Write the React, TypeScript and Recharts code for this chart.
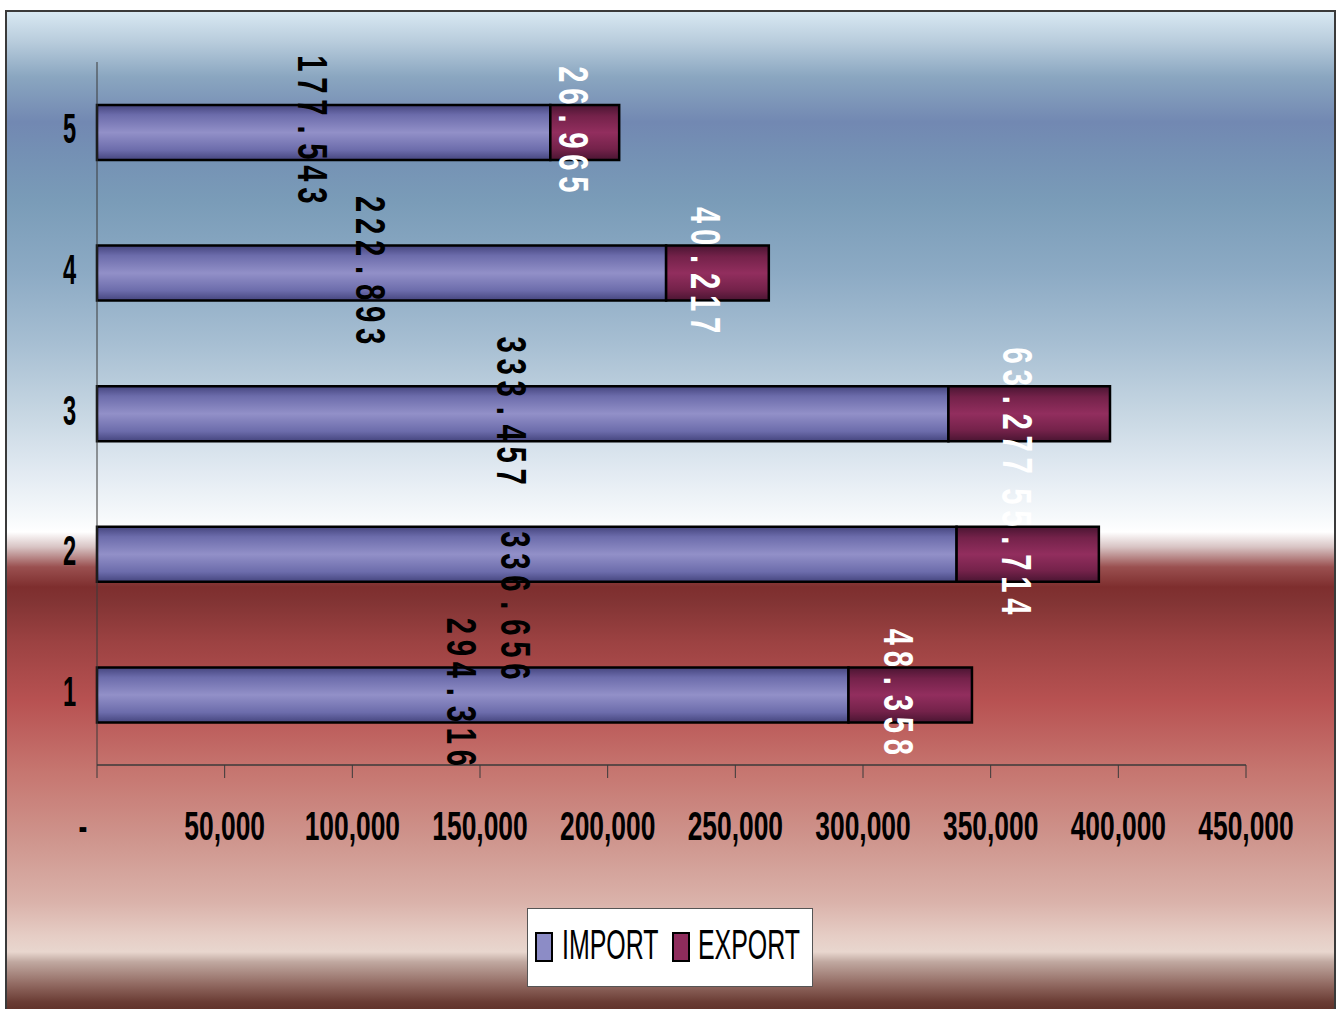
import React from 'react';
import { BarChart, Bar, XAxis, YAxis, Legend, LabelList } from 'recharts';

const categories = ['1', '2', '3', '4', '5'];
const importValues = [294316, 336656, 333457, 222893, 177543];
const exportValues = [48358, 55714, 63277, 40217, 26965];
const xTicks = [0, 50000, 100000, 150000, 200000, 250000, 300000, 350000, 400000, 450000];
const seriesNames = ['IMPORT', 'EXPORT'];

const data = categories.map((name, i) => ({
  name,
  IMPORT: importValues[i],
  EXPORT: exportValues[i],
}));

const FONT = '"Liberation Sans", Arial, sans-serif';

const group = (v: number, sep: string) => String(v).replace(/\B(?=(\d{3})+(?!\d))/g, sep);

const background =
  'linear-gradient(to bottom, #d8e8f2 0px, #b8ccdc 30px, #8aa6c0 65px, #7288b2 110px, #7490b4 140px, ' +
  '#7a9cb8 190px, #8caac4 260px, #a6bed2 330px, #c6d6e2 400px, #e2eaf2 460px, #f6f9fb 505px, #ffffff 520px, ' +
  '#d8c4c4 535px, #9a5050 555px, #7e2e2e 575px, #823434 590px, #9c4242 630px, #b85252 690px, #c67670 760px, ' +
  '#cf968e 830px, #dab2aa 890px, #e6cec6 925px, #e8d6ce 940px, #c0a8a0 950px, #906860 973px, #6a3c34 990px, #5e3028 1000px)';

function XTick(props: any) {
  const { x, y, payload } = props;
  const zero = payload.value === 0;
  return (
    <text
      transform={`translate(${zero ? x - 14 : x}, ${y + 62}) scale(0.66, 1)`}
      textAnchor="middle"
      fontFamily={FONT}
      fontWeight="bold"
      fontSize={40}
      fill="#000"
    >
      {zero ? '-' : group(payload.value, ',')}
    </text>
  );
}

function YTick(props: any) {
  const { x, y, payload } = props;
  return (
    <text
      transform={`translate(${x - 27.5}, ${y + 11}) scale(0.55, 1)`}
      textAnchor="middle"
      fontFamily={FONT}
      fontWeight="bold"
      fontSize={43}
      fill="#000"
    >
      {payload.value}
    </text>
  );
}

// vertical labels, one slot per character; the import label of category 2 sits lower in the original
const makeLabel = (color: string, shifted: Record<number, number>) => (props: any) => {
  const { x, y, width, height, value, index } = props;
  const chars = group(value, '.').split('');
  const cx = x + width / 2 - 26;
  const cy = y + height / 2 - 3 + (shifted[index] || 0);
  return (
    <g>
      {chars.map((c, i) => (
        <text
          key={i}
          transform={`translate(${cx}, ${cy + (i - (chars.length - 1) / 2) * 22}) rotate(90) scale(0.68, 1)`}
          textAnchor="middle"
          fontFamily={FONT}
          fontWeight="bold"
          fontSize={43}
          fill={color}
        >
          {c}
        </text>
      ))}
    </g>
  );
};

function LegendBox() {
  const fills: Record<string, string> = { IMPORT: '#8c8cc6', EXPORT: '#8e2c5c' };
  return (
    <svg width={287} height={80} style={{ display: 'block' }}>
      <rect x={0.5} y={0.5} width={285} height={78} fill="#fff" stroke="#555" />
      {seriesNames.map((name, i) => (
        <g key={name}>
          <rect x={9 + i * 137} y={25} width={16} height={28} fill={fills[name]} stroke="#000" strokeWidth={2} />
          <text
            transform={`translate(${35 + i * 136}, 51) scale(0.58, 1)`}
            fontFamily={FONT}
            fontSize={43}
            fill="#000"
          >
            {name}
          </text>
        </g>
      ))}
    </svg>
  );
}

export default function App() {
  return (
    <div style={{ position: 'absolute', left: 0, top: 0, width: 1340, height: 1009, overflow: 'hidden' }}>
      <div
        style={{
          position: 'absolute',
          left: 5,
          top: 10,
          width: 1331,
          height: 1010,
          boxSizing: 'border-box',
          border: '2px solid #3a3a3a',
          background,
        }}
      />
      <div style={{ position: 'absolute', left: 0, top: 0 }}>
        <BarChart
          width={1340}
          height={1009}
          data={data}
          layout="vertical"
          margin={{ top: 62, right: 94, bottom: 184, left: 37 }}
        >
          <defs>
            <linearGradient id="gradImport" x1="0" y1="0" x2="0" y2="1">
              <stop offset="0%" stopColor="#45457e" />
              <stop offset="18%" stopColor="#6c6cab" />
              <stop offset="50%" stopColor="#9290c8" />
              <stop offset="82%" stopColor="#6c6cab" />
              <stop offset="100%" stopColor="#45457e" />
            </linearGradient>
            <linearGradient id="gradExport" x1="0" y1="0" x2="0" y2="1">
              <stop offset="0%" stopColor="#4a1532" />
              <stop offset="20%" stopColor="#74224a" />
              <stop offset="50%" stopColor="#922e5e" />
              <stop offset="80%" stopColor="#74224a" />
              <stop offset="100%" stopColor="#4a1532" />
            </linearGradient>
          </defs>
          <XAxis
            type="number"
            domain={[0, 450000]}
            ticks={xTicks}
            interval={0}
            height={60}
            tickSize={13}
            tickMargin={0}
            axisLine={{ stroke: '#3a3a3a', strokeWidth: 1.5 }}
            tickLine={{ stroke: '#3a3a3a', strokeWidth: 1 }}
            tick={<XTick />}
          />
          <YAxis
            type="category"
            dataKey="name"
            reversed
            width={60}
            tickSize={0}
            tickMargin={0}
            tickLine={false}
            axisLine={{ stroke: '#3a3a3a', strokeWidth: 1 }}
            tick={<YTick />}
          />
          <Legend
            layout="horizontal"
            verticalAlign="middle"
            align="center"
            content={<LegendBox />}
            wrapperStyle={{ left: 527, top: 908, width: 287, height: 80 }}
          />
          <Bar
            dataKey="IMPORT"
            stackId="a"
            barSize={55}
            fill="url(#gradImport)"
            stroke="#000"
            strokeWidth={2.5}
            isAnimationActive={false}
          >
            <LabelList dataKey="IMPORT" content={makeLabel('#000', { 1: 54 })} />
          </Bar>
          <Bar
            dataKey="EXPORT"
            stackId="a"
            barSize={55}
            fill="url(#gradExport)"
            stroke="#000"
            strokeWidth={2.5}
            isAnimationActive={false}
          >
            <LabelList dataKey="EXPORT" content={makeLabel('#fff', {})} />
          </Bar>
        </BarChart>
      </div>
    </div>
  );
}
